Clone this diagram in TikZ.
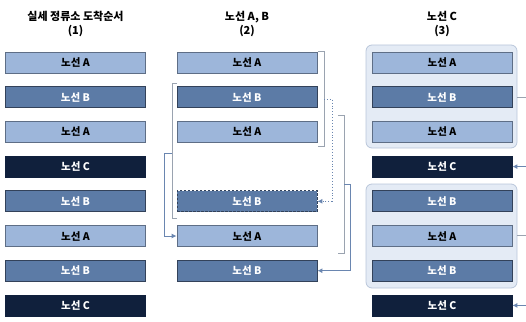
\documentclass[tikz,border=0pt]{standalone}
\usepackage{fontspec}
\setmainfont{Noto Sans CJK KR}
\usetikzlibrary{arrows.meta}
\definecolor{aFill}{HTML}{9DB6DA}
\definecolor{aLine}{HTML}{5E6E86}
\definecolor{bFill}{HTML}{5C7BA6}
\definecolor{bLine}{HTML}{33425A}
\definecolor{cFill}{HTML}{10203C}
\definecolor{grpFill}{HTML}{E4EBF5}
\definecolor{grpLine}{HTML}{B9C6DA}
\definecolor{brk}{HTML}{9AA3B0}
\definecolor{arr}{HTML}{6A86B0}
\tikzset{
  box/.style={minimum width=140pt, minimum height=21pt, inner sep=0pt, font=\bfseries\fontsize{10.5}{11}\selectfont, line width=0.8pt},
  boxA/.style={box, fill=aFill, draw=aLine, text=black},
  boxB/.style={box, fill=bFill, draw=bLine, text=white},
  boxBd/.style={box, fill=bFill, draw=bLine, text=white, dash pattern=on 2.5pt off 1.5pt},
  boxC/.style={box, fill=cFill, draw=cFill, text=white},
  grp/.style={fill=grpFill, draw=grpLine, rounded corners=6pt, line width=0.8pt},
  title/.style={font=\bfseries\fontsize{11}{14}\selectfont, align=center},
  brack/.style={draw=brk, line width=0.6pt},
  conn/.style={draw=arr, line width=0.9pt},
  connd/.style={draw=arr, line width=0.9pt, dotted},
  tip/.style={-{Latex[length=5pt,width=5pt]}}
}
\begin{document}
\begin{tikzpicture}[x=1pt,y=-1pt]
\useasboundingbox (0,0) rectangle (526,321);
% titles
\node[title] (t1) at (75.5,24) {실세 정류소 도착순서\\(1)};
\node[title] (t2) at (247,24) {노선 A, B\\(2)};
\node[title] (t3) at (442,24) {노선 C\\(3)};
% groups in column 3
\draw[grp] (366,45) rectangle (517,148);
\draw[grp] (366,184) rectangle (517,288);
% column 1
\node[boxA] (c1r1) at (75.5,62.5) {노선 A};
\node[boxB] (c1r2) at (75.5,97.2) {노선 B};
\node[boxA] (c1r3) at (75.5,131.9) {노선 A};
\node[boxC] (c1r4) at (75.5,166.6) {노선 C};
\node[boxB] (c1r5) at (75.5,201.3) {노선 B};
\node[boxA] (c1r6) at (75.5,236) {노선 A};
\node[boxB] (c1r7) at (75.5,270.7) {노선 B};
\node[boxC] (c1r8) at (75.5,305.4) {노선 C};
% column 2
\node[boxA] (c2r1) at (247,62.5) {노선 A};
\node[boxB] (c2r2) at (247,97.2) {노선 B};
\node[boxA] (c2r3) at (247,131.9) {노선 A};
\node[boxBd] (c2r5) at (247,201.3) {노선 B};
\node[boxA] (c2r6) at (247,236) {노선 A};
\node[boxB] (c2r7) at (247,270.7) {노선 B};
% column 3
\node[boxA] (c3r1) at (442,62.5) {노선 A};
\node[boxB] (c3r2) at (442,97.2) {노선 B};
\node[boxA] (c3r3) at (442,131.9) {노선 A};
\node[boxC] (c3r4) at (442,166.6) {노선 C};
\node[boxB] (c3r5) at (442,201.3) {노선 B};
\node[boxA] (c3r6) at (442,236) {노선 A};
\node[boxB] (c3r7) at (442,270.7) {노선 B};
\node[boxC] (c3r8) at (442,305.4) {노선 C};
% brackets column 2
\draw[brack] (318,51) -- (324,51) -- (324,146) -- (318,146);
\draw[brack] (338,115) -- (344,115) -- (344,253) -- (338,253);
\draw[brack] (177,83) -- (172,83) -- (172,218) -- (177,218);
% connectors
\coordinate (m1) at (324,99);
\coordinate (m2) at (344,184);
\coordinate (m3) at (172,153);
\draw[connd,tip] (m1) -- (332,99) |- (c2r5.east);
\draw[conn,tip] (m2) -- (350,184) |- (c2r7.east);
\draw[conn,tip] (m3) -- (164,153) |- (c2r6.west);
% column 3 side lines
\coordinate (e1) at (526,97);
\coordinate (e2) at (526,235);
\coordinate (e3) at (526,166.6);
\coordinate (e4) at (526,305.4);
\draw[brack] (517,97) -- (e1);
\draw[brack] (517,235) -- (e2);
\draw[conn,tip] (e3) -- (c3r4.east);
\draw[conn,tip] (e4) -- (c3r8.east);
\end{tikzpicture}
\end{document}
